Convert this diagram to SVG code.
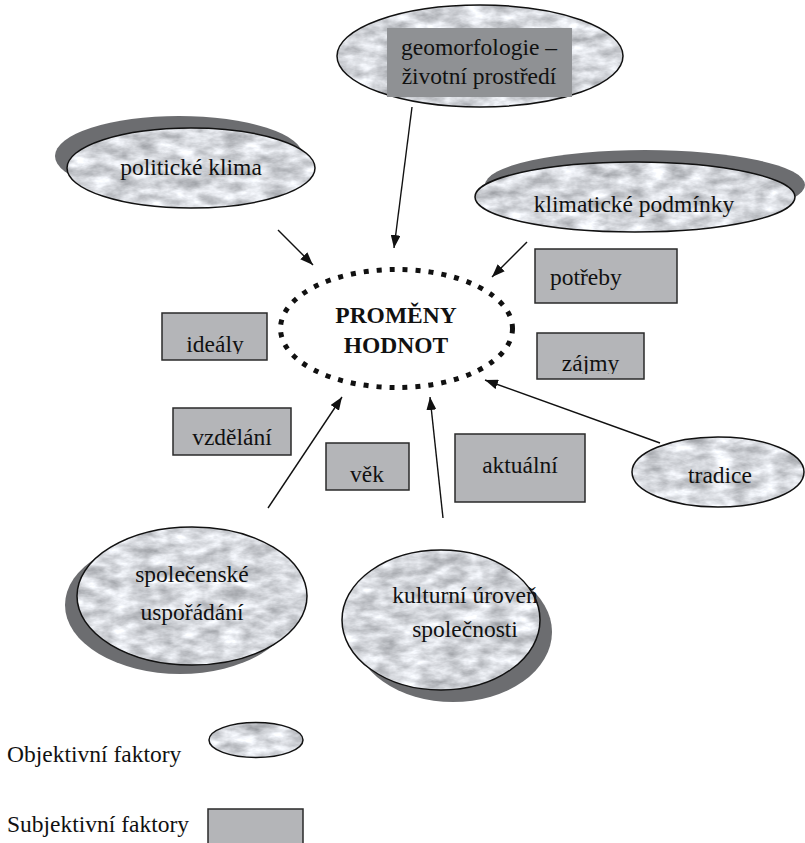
<svg xmlns="http://www.w3.org/2000/svg" width="805" height="843" viewBox="0 0 805 843" font-family="'Liberation Serif', 'Times New Roman', serif">
<defs>
<style>
text{font-family:"Liberation Serif","Times New Roman",serif;font-size:23.5px;fill:#111;}
.c{text-anchor:middle;}
.b{font-weight:bold;}
.box{fill:#b4b5b8;stroke:#2a2a2a;stroke-width:1.5;}
.ol{fill:none;stroke:#111;stroke-width:1.5;}
.sh{fill:#6c6d70;}
.m{fill:#ccc;filter:url(#marble);}
.con{stroke:#111;stroke-width:1.4;fill:none;marker-end:url(#arr);}
</style>
<filter id="marble" x="0" y="0" width="1" height="1" color-interpolation-filters="sRGB">
<feTurbulence type="fractalNoise" baseFrequency="0.045 0.09" numOctaves="4" seed="11" result="n"/>
<feColorMatrix in="n" type="matrix" values="0.55 0 0 0 0.56  0.55 0 0 0 0.57  0.55 0 0 0 0.59  0 0 0 0 1" result="g"/>
<feComposite in="g" in2="SourceGraphic" operator="in"/>
</filter>
<marker id="arr" viewBox="0 0 13 10" refX="13" refY="5" markerWidth="13" markerHeight="10" markerUnits="userSpaceOnUse" orient="auto">
<path d="M0,0 L13,5 L0,10 z" fill="#111"/>
</marker>
<clipPath id="clipIdealy"><rect x="162" y="313" width="105" height="41"/></clipPath>
<clipPath id="clipZajmy"><rect x="537" y="333" width="107" height="41"/></clipPath>
</defs>

<g id="center">
<ellipse cx="396.5" cy="328.5" rx="116" ry="59" fill="none" stroke="#111" stroke-width="5" stroke-dasharray="5 8"/>
<text class="c b" x="396" y="323">PROMĚNY</text>
<text class="c b" x="396" y="353">HODNOT</text>
</g>

<g id="geomorfologie">
<ellipse class="m" cx="480" cy="56" rx="143" ry="51"/>
<ellipse class="ol" cx="480" cy="56" rx="143" ry="51"/>
<rect x="387" y="28" width="185" height="69" fill="#8f9194"/>
<text class="c" x="479" y="55">geomorfologie –</text>
<text class="c" x="479" y="84">životní prostředí</text>
</g>

<g id="politicke-klima">
<ellipse class="sh" cx="179" cy="156" rx="124" ry="40"/>
<ellipse class="m" cx="191" cy="168" rx="124" ry="40"/>
<ellipse class="ol" cx="191" cy="168" rx="124" ry="40"/>
<text class="c" x="191" y="175">politické klima</text>
</g>

<g id="klimaticke-podminky">
<ellipse class="sh" cx="645" cy="185" rx="160" ry="35"/>
<ellipse class="m" cx="635" cy="197" rx="160" ry="35"/>
<ellipse class="ol" cx="635" cy="197" rx="160" ry="35"/>
<text class="c" x="634" y="212">klimatické podmínky</text>
</g>

<g id="potreby">
<rect class="box" x="535" y="249" width="142" height="54"/>
<text x="550" y="285">potřeby</text>
</g>

<g id="zajmy">
<rect class="box" x="537" y="333" width="107" height="46"/>
<text class="c" x="590.5" y="371" clip-path="url(#clipZajmy)">zájmy</text>
</g>

<g id="idealy">
<rect class="box" x="162" y="313" width="105" height="47"/>
<text class="c" x="215" y="352" clip-path="url(#clipIdealy)">ideály</text>
</g>

<g id="vzdelani">
<rect class="box" x="173" y="408" width="118" height="47"/>
<text class="c" x="232" y="445">vzdělání</text>
</g>

<g id="vek">
<rect class="box" x="326" y="443" width="83" height="47"/>
<text class="c" x="367" y="482">věk</text>
</g>

<g id="aktualni">
<rect class="box" x="455" y="434" width="130" height="68"/>
<text class="c" x="520" y="473">aktuální</text>
</g>

<g id="tradice">
<ellipse class="m" cx="718" cy="472" rx="86" ry="35"/>
<ellipse class="ol" cx="718" cy="472" rx="86" ry="35"/>
<text class="c" x="720" y="483">tradice</text>
</g>

<g id="spolecenske-usporadani">
<ellipse class="sh" cx="180" cy="605" rx="115" ry="69"/>
<ellipse class="m" cx="192" cy="596" rx="115" ry="69"/>
<ellipse class="ol" cx="192" cy="596" rx="115" ry="69"/>
<text class="c" x="192" y="582">společenské</text>
<text class="c" x="192" y="620">uspořádání</text>
</g>

<g id="kulturni-uroven">
<ellipse class="sh" cx="453" cy="632" rx="99" ry="70"/>
<ellipse class="m" cx="441" cy="620" rx="99" ry="70"/>
<ellipse class="ol" cx="441" cy="620" rx="99" ry="70"/>
<text class="c" x="465" y="603">kulturní úroveň</text>
<text class="c" x="465" y="637">společnosti</text>
</g>

<g id="connectors">
<line class="con" x1="412" y1="107" x2="394" y2="248"/>
<line class="con" x1="278" y1="230" x2="313" y2="265"/>
<line class="con" x1="527" y1="242" x2="492" y2="277"/>
<line class="con" x1="268" y1="508" x2="342" y2="397"/>
<line class="con" x1="443" y1="518" x2="430" y2="397"/>
<line class="con" x1="660" y1="443" x2="485" y2="380"/>
</g>

<g id="legend">
<ellipse class="m" cx="256" cy="740" rx="47" ry="17.5"/>
<ellipse class="ol" cx="256" cy="740" rx="47" ry="17.5"/>
<text x="7" y="762">Objektivní faktory</text>
<rect class="box" x="208" y="809" width="95" height="40"/>
<text x="7" y="832">Subjektivní faktory</text>
</g>
</svg>
